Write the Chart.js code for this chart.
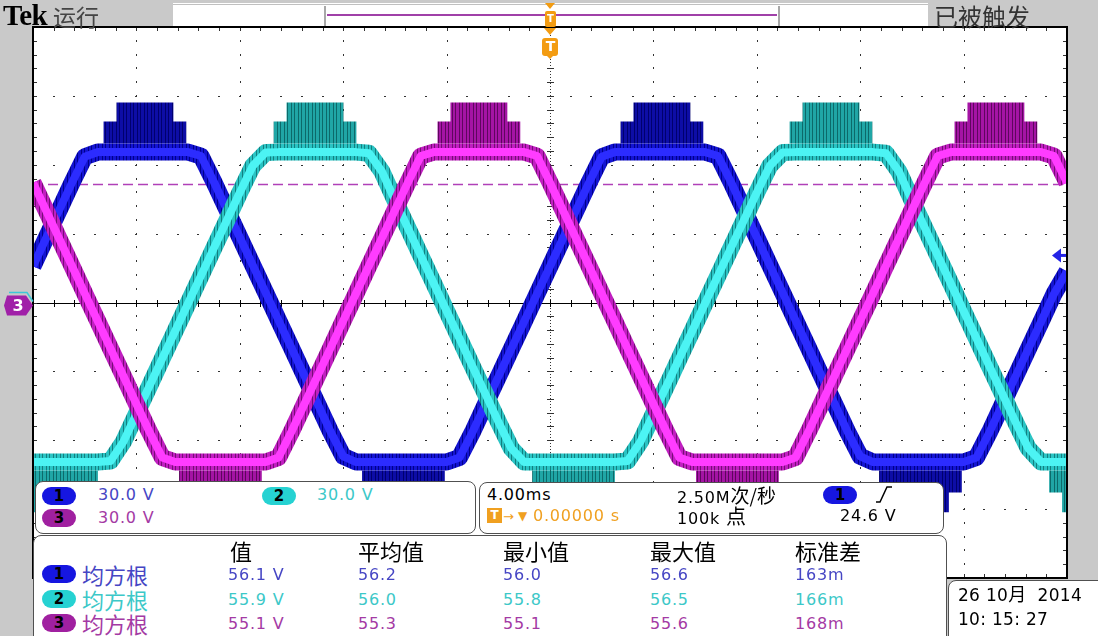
<!DOCTYPE html>
<html>
<head>
<meta charset="utf-8">
<title>Tek scope</title>
<script src="https://cdn.jsdelivr.net/npm/chart.js@4.4.1/dist/chart.umd.min.js"></script>
<style>
  html, body { margin: 0; padding: 0; }
  body { width: 1098px; height: 636px; position: relative; overflow: hidden; background: #c9c9c9; }
  #scope { position: absolute; left: 0; top: 0; }
  .t { position: absolute; white-space: nowrap; line-height: 1; transform: translateY(-50%);
       font-family: "DejaVu Sans", sans-serif; font-size: 16px; letter-spacing: 0.8px; color: #000; }
  .cjk { font-family: "Noto Sans CJK SC", sans-serif; letter-spacing: 0; }
  .box { position: absolute; background: #fff; border: 1px solid #505050; box-sizing: border-box; }
  .pill { position: absolute; width: 34px; height: 18px; border-radius: 9px; transform: translateY(-50%);
          font: bold 15px "DejaVu Sans", sans-serif; color: #000; text-align: center; line-height: 18px; }
  .c1 { color: #4646c4; } .c2 { color: #3cc8c8; } .c3 { color: #a43aa4; }
  .p1 { background: #1616e0; } .p2 { background: #26d2d2; } .p3 { background: #a020a0; }
  .org { color: #f0a020; }
</style>
</head>
<body>
<canvas id="scope" width="1098" height="636"></canvas>

<!-- status bar -->
<div class="t" style="left:3px;top:15px;font:bold 29px 'Liberation Serif',serif;letter-spacing:-0.5px">Tek</div>
<div class="t cjk" style="left:53px;top:16px;font-size:23px;color:#444">运行</div>
<div class="t cjk" style="left:934px;top:16px;font-size:24px;color:#333">已被触发</div>

<!-- channel scale readout -->
<div class="box" style="left:35px;top:481px;width:441px;height:53px;border-radius:8px"></div>
<div class="pill p1" style="left:42px;top:496px">1</div>
<div class="t c1" style="left:98px;top:495px">30.0 V</div>
<div class="pill p2" style="left:262px;top:496px">2</div>
<div class="t c2" style="left:317px;top:495px">30.0 V</div>
<div class="pill p3" style="left:42px;top:518px">3</div>
<div class="t c3" style="left:98px;top:518px">30.0 V</div>

<!-- timebase / trigger readout -->
<div class="box" style="left:479px;top:482px;width:465px;height:52px;border-radius:8px"></div>
<div class="t" style="left:487px;top:495px">4.00ms</div>
<div class="t" style="left:677px;top:495px">2.50M<span class="cjk" style="font-size:19px">次/秒</span></div>
<div class="pill p1" style="left:823px;top:495px">1</div>
<svg style="position:absolute;left:872px;top:484px" width="24" height="22">
  <polyline points="4,18 8,18 15,3 20,3" fill="none" stroke="#000" stroke-width="1.5"/>
</svg>
<div style="position:absolute;left:487px;top:508px;width:15px;height:15px;background:#f0a020;color:#fff;font:bold 12px 'DejaVu Sans',sans-serif;text-align:center;line-height:15px">T</div>
<div class="t org" style="left:503px;top:516px;font-size:13px;letter-spacing:0">→</div>
<div class="t org" style="left:518px;top:516px;font-size:12px;letter-spacing:0">▼</div>
<div class="t org" style="left:533px;top:516px">0.00000 s</div>
<div class="t" style="left:677px;top:516px">100k <span class="cjk" style="font-size:20px">点</span></div>
<div class="t" style="left:840px;top:516px">24.6 V</div>

<!-- measurement table -->
<div class="box" style="left:33px;top:535px;width:914px;height:120px;border-radius:8px 8px 0 0"></div>
<div class="t cjk" style="left:230px;top:550px;font-size:22px">值</div>
<div class="t cjk" style="left:358px;top:550px;font-size:22px">平均值</div>
<div class="t cjk" style="left:503px;top:550px;font-size:22px">最小值</div>
<div class="t cjk" style="left:650px;top:550px;font-size:22px">最大值</div>
<div class="t cjk" style="left:795px;top:550px;font-size:22px">标准差</div>

<div class="pill p1" style="left:42px;top:574px">1</div>
<div class="t cjk c1" style="left:82px;top:574px;font-size:22px">均方根</div>
<div class="t c1" style="left:228px;top:575px">56.1 V</div>
<div class="t c1" style="left:358px;top:575px">56.2</div>
<div class="t c1" style="left:503px;top:575px">56.0</div>
<div class="t c1" style="left:650px;top:575px">56.6</div>
<div class="t c1" style="left:795px;top:575px">163m</div>

<div class="pill p2" style="left:42px;top:599px">2</div>
<div class="t cjk c2" style="left:82px;top:599px;font-size:22px">均方根</div>
<div class="t c2" style="left:228px;top:600px">55.9 V</div>
<div class="t c2" style="left:358px;top:600px">56.0</div>
<div class="t c2" style="left:503px;top:600px">55.8</div>
<div class="t c2" style="left:650px;top:600px">56.5</div>
<div class="t c2" style="left:795px;top:600px">166m</div>

<div class="pill p3" style="left:42px;top:623px">3</div>
<div class="t cjk c3" style="left:82px;top:623px;font-size:22px">均方根</div>
<div class="t c3" style="left:228px;top:624px">55.1 V</div>
<div class="t c3" style="left:358px;top:624px">55.3</div>
<div class="t c3" style="left:503px;top:624px">55.1</div>
<div class="t c3" style="left:650px;top:624px">55.6</div>
<div class="t c3" style="left:795px;top:624px">168m</div>

<!-- date -->
<div class="box" style="left:948px;top:580px;width:160px;height:70px;border-radius:8px 0 0 0"></div>
<div class="t" style="left:958px;top:594px;font-size:17px;letter-spacing:0.3px">26 10<span class="cjk" style="font-size:18px">月</span>&nbsp; 2014</div>
<div class="t" style="left:958px;top:619px;font-size:17px;letter-spacing:0.3px">10: 15: 27</div>

<script>
// sample times (ms), 4 ms/div, trigger at 0
const sampleMs = [-20,-19.5,-19,-18.5,-18,-17.5,-17,-16.5,-16,-15.5,-15,-14.5,-14,-13.5,-13,-12.5,-12,-11.5,-11,-10.5,
  -10,-9.5,-9,-8.5,-8,-7.5,-7,-6.5,-6,-5.5,-5,-4.5,-4,-3.5,-3,-2.5,-2,-1.5,-1,-0.5,
  0,0.5,1,1.5,2,2.5,3,3.5,4,4.5,5,5.5,6,6.5,7,7.5,8,8.5,9,9.5,
  10,10.5,11,11.5,12,12.5,13,13.5,14,14.5,15,15.5,16,16.5,17,17.5,18,18.5,19,19.5,20];

// trace centre values (V) at 30 V/div
const ch1Volts = [15.8,27.9,39.9,52.0,63.5,65.5,65.5,65.5,65.5,65.5,65.5,65.5,65.5,63.8,52.5,40.4,28.4,16.3,4.3,-7.8,
  -19.8,-31.9,-43.9,-56.0,-67.0,-69.5,-69.5,-69.5,-69.5,-69.5,-69.5,-69.5,-69.5,-67.5,-56.5,-44.4,-32.4,-20.3,-8.3,3.8,
  15.8,27.9,39.9,52.0,63.5,65.5,65.5,65.5,65.5,65.5,65.5,65.5,65.5,63.8,52.5,40.4,28.4,16.3,4.3,-7.8,
  -19.8,-31.9,-43.9,-56.0,-67.0,-69.5,-69.5,-69.5,-69.5,-69.5,-69.5,-69.5,-69.5,-67.5,-56.5,-44.4,-32.4,-20.3,-8.3,3.8,13.5];
const ch2Volts = [-69.5,-69.5,-69.5,-69.5,-69.5,-69.5,-69.0,-60.6,-48.5,-36.5,-24.4,-12.4,-0.3,11.7,23.8,35.8,47.9,59.5,65.3,65.5,
  65.5,65.5,65.5,65.5,65.5,65.5,65.0,57.0,44.5,32.5,20.4,8.4,-3.7,-15.7,-27.8,-39.8,-51.9,-63.5,-69.5,-69.5,
  -69.5,-69.5,-69.5,-69.5,-69.5,-69.5,-69.0,-60.6,-48.5,-36.5,-24.4,-12.4,-0.3,11.7,23.8,35.8,47.9,59.5,65.3,65.5,
  65.5,65.5,65.5,65.5,65.5,65.5,65.0,57.0,44.5,32.5,20.4,8.4,-3.7,-15.7,-27.8,-39.8,-51.9,-63.5,-69.5,-69.5,-69.5];
const ch3Volts = [52.2,40.2,28.1,16.1,4.0,-8.0,-20.1,-32.1,-44.2,-56.2,-67.5,-69.5,-69.5,-69.5,-69.5,-69.5,-69.5,-69.5,-69.5,-67.5,
  -56.2,-44.2,-32.1,-20.1,-8.0,4.0,16.1,28.1,40.2,52.2,63.8,65.5,65.5,65.5,65.5,65.5,65.5,65.5,65.5,63.8,
  52.2,40.2,28.1,16.1,4.0,-8.0,-20.1,-32.1,-44.2,-56.2,-67.5,-69.5,-69.5,-69.5,-69.5,-69.5,-69.5,-69.5,-69.5,-67.5,
  -56.2,-44.2,-32.1,-20.1,-8.0,4.0,16.1,28.1,40.2,52.2,63.8,65.5,65.5,65.5,65.5,65.5,65.5,65.5,65.5,63.8,52.2];

// crest / trough times (ms) where the ripple envelope bulges out
const ch1Tops = [-15.67, 4.33], ch1Bottoms = [-5.67, 14.33];
const ch2Tops = [-9.09, 10.87], ch2Bottoms = [-19.09, 0.91, 20.91];
const ch3Tops = [-2.75, 17.25], ch3Bottoms = [-12.75, 7.25];
// envelope steps: half width (ms) and level (V)
const hatHalfMs = [1.6, 1.1];
const hatTopV = [74.0, 82.3];
const hatBottomV = [-78.0, -86.6];

const refLineV = 51.4;     // dashed magenta level
const trigArrowV = 20.5;   // trigger level arrow on the right

const canvas = document.getElementById('scope');
const mainCtx = canvas.getContext('2d');

function stripes(base, dark) {
  const c = document.createElement('canvas');
  c.width = 7; c.height = 4;
  const g = c.getContext('2d');
  g.fillStyle = base; g.fillRect(0, 0, 7, 4);
  g.fillStyle = dark; g.fillRect(0, 0, 1, 4); g.fillRect(4, 0, 1, 4);
  return mainCtx.createPattern(c, 'repeat');
}

function tracePoints(vals) {
  return sampleMs.map((t, i) => ({ x: t, y: vals[i] }));
}

function hatPoints(tops, bottoms, tier) {
  const pts = [];
  const h = hatHalfMs[tier];
  tops.forEach(p => pts.push({ x: p - h, y: hatTopV[tier] }, { x: p + h, y: hatTopV[tier] }, { x: p + h, y: null }));
  bottoms.forEach(p => pts.push({ x: p - h, y: hatBottomV[tier] }, { x: p + h, y: hatBottomV[tier] }, { x: p + h, y: null }));
  return pts.sort((a, b) => a.x - b.x);
}

function line(data, color, width, order) {
  return { data, borderColor: color, borderWidth: width, pointRadius: 0, tension: 0, fill: false,
           borderJoinStyle: 'round', borderCapStyle: 'butt', spanGaps: false, order };
}

function channel(vals, tops, bottoms, hatCol, bandCol, coreCol, base) {
  return [
    line(hatPoints(tops, bottoms, 0), hatCol, 22, base + 3),
    line(hatPoints(tops, bottoms, 1), hatCol, 22, base + 3),
    line(tracePoints(vals), bandCol, 17, base + 2),
    line(tracePoints(vals), coreCol, 8, base + 1)
  ];
}

const datasets = [].concat(
  channel(ch1Volts, ch1Tops, ch1Bottoms, stripes('#0d0da6', '#00006e'), stripes('#1414d2', '#00008c'), '#2c2cff', 20),
  channel(ch2Volts, ch2Tops, ch2Bottoms, stripes('#20a6a6', '#0c6a6a'), stripes('#2ac4c4', '#118080'), '#4cf4f4', 10),
  channel(ch3Volts, ch3Tops, ch3Bottoms, stripes('#a414a4', '#5e065e'), stripes('#c11fc1', '#780b78'), '#ff3cff', 0)
);

function rrect(ctx, x, y, w, h, r) {
  ctx.beginPath();
  ctx.moveTo(x + r, y); ctx.lineTo(x + w - r, y); ctx.quadraticCurveTo(x + w, y, x + w, y + r);
  ctx.lineTo(x + w, y + h - r); ctx.quadraticCurveTo(x + w, y + h, x + w - r, y + h);
  ctx.lineTo(x + r, y + h); ctx.quadraticCurveTo(x, y + h, x, y + h - r);
  ctx.lineTo(x, y + r); ctx.quadraticCurveTo(x, y, x + r, y);
  ctx.closePath();
}

const scopeDecor = {
  id: 'scopeDecor',
  beforeDraw(chart) {
    const { ctx, chartArea: a } = chart;
    ctx.save();
    // status bar
    ctx.fillStyle = '#fff';
    ctx.fillRect(173, 3, 755, 24);
    ctx.strokeStyle = '#c0c0c0'; ctx.lineWidth = 1;
    ctx.beginPath(); ctx.moveTo(173, 4.5); ctx.lineTo(928, 4.5); ctx.stroke();
    ctx.strokeStyle = '#a8a8a8'; ctx.lineWidth = 2;
    ctx.beginPath();
    ctx.moveTo(325, 6); ctx.lineTo(325, 26);
    ctx.moveTo(779, 6); ctx.lineTo(779, 26);
    ctx.stroke();
    ctx.strokeStyle = '#a040a8'; ctx.lineWidth = 2;
    ctx.beginPath(); ctx.moveTo(327, 15); ctx.lineTo(777, 15); ctx.stroke();
    // graticule background
    ctx.fillStyle = '#fff';
    ctx.fillRect(a.left, a.top, a.right - a.left, a.bottom - a.top);
    ctx.restore();
  },
  beforeDatasetsDraw(chart) {
    const { ctx, chartArea: a, scales: { x, y } } = chart;
    ctx.save();
    ctx.fillStyle = '#333';
    for (let d = 1; d < 10; d++) {
      if (d === 5) continue;
      const px = Math.round(x.getPixelForValue(-20 + d * 4));
      for (let m = 1; m < 40; m++) {
        ctx.fillRect(px, Math.round(y.getPixelForValue(-120 + m * 6)) - 1, 1, 2);
      }
    }
    for (let d = 1; d < 8; d++) {
      if (d === 4) continue;
      const py = Math.round(y.getPixelForValue(-120 + d * 30));
      for (let m = 1; m < 50; m++) {
        ctx.fillRect(Math.round(x.getPixelForValue(-20 + m * 0.8)) - 1, py, 2, 1);
      }
    }
    // centre vertical: dense dots + ticks
    const cx = Math.round(x.getPixelForValue(0));
    for (let py = a.top + 2; py < a.bottom; py += 3) ctx.fillRect(cx, py, 1, 1);
    for (let m = 1; m < 40; m++) {
      ctx.fillRect(cx - 3, Math.round(y.getPixelForValue(-120 + m * 6)), 7, 1);
    }
    // centre horizontal: solid line + ticks
    const cy = Math.round(y.getPixelForValue(0));
    ctx.fillStyle = '#000';
    ctx.fillRect(a.left, cy, a.right - a.left, 1);
    for (let m = 1; m < 50; m++) {
      ctx.fillRect(Math.round(x.getPixelForValue(-20 + m * 0.8)), cy - 3, 1, 7);
    }
    // border ticks
    ctx.fillStyle = '#333';
    for (let m = 1; m < 50; m++) {
      const px = Math.round(x.getPixelForValue(-20 + m * 0.8));
      ctx.fillRect(px, a.top + 1, 1, 3);
      ctx.fillRect(px, a.bottom - 4, 1, 3);
    }
    for (let m = 1; m < 40; m++) {
      const py = Math.round(y.getPixelForValue(-120 + m * 6));
      ctx.fillRect(a.left + 1, py, 3, 1);
      ctx.fillRect(a.right - 4, py, 3, 1);
    }
    // dashed level line
    const ry = Math.round(y.getPixelForValue(refLineV)) + 0.5;
    ctx.strokeStyle = '#b040b8'; ctx.lineWidth = 1.5;
    ctx.setLineDash([10, 5]);
    ctx.beginPath(); ctx.moveTo(a.left, ry); ctx.lineTo(a.right, ry); ctx.stroke();
    ctx.restore();
  },
  afterDatasetsDraw(chart) {
    const { ctx, chartArea: a, scales: { x, y } } = chart;
    ctx.save();
    ctx.strokeStyle = '#000'; ctx.lineWidth = 2;
    ctx.strokeRect(a.left, a.top, a.right - a.left, a.bottom - a.top);

    const tx = x.getPixelForValue(0);
    const orange = '#f39c12';
    ctx.fillStyle = orange;
    // small trigger marker in the status bar
    ctx.beginPath(); ctx.moveTo(tx - 5, 3); ctx.lineTo(tx + 5, 3); ctx.lineTo(tx, 9); ctx.closePath(); ctx.fill();
    rrect(ctx, tx - 5, 11, 11, 16, 2); ctx.fill();
    ctx.beginPath(); ctx.moveTo(tx - 6, 28); ctx.lineTo(tx + 6, 28); ctx.lineTo(tx, 35); ctx.closePath(); ctx.fill();
    // big trigger marker
    rrect(ctx, tx - 8, 38, 16, 18, 3); ctx.fill();
    ctx.beginPath(); ctx.moveTo(tx - 4, 55); ctx.lineTo(tx + 4, 55); ctx.lineTo(tx, 59); ctx.closePath(); ctx.fill();
    ctx.fillStyle = '#fff';
    ctx.textAlign = 'center'; ctx.textBaseline = 'middle';
    ctx.font = 'bold 10px "DejaVu Sans"';
    ctx.fillText('T', tx + 0.5, 19.5);
    ctx.font = 'bold 14px "DejaVu Sans"';
    ctx.fillText('T', tx + 0.5, 47.5);

    // ch3 ground marker
    const gy = y.getPixelForValue(0) + 3;
    ctx.strokeStyle = '#3cc8d8'; ctx.lineWidth = 1.5;
    ctx.beginPath();
    ctx.moveTo(9, gy - 13); ctx.lineTo(27, gy - 13); ctx.lineTo(33, gy - 4);
    ctx.stroke();
    ctx.fillStyle = '#a020a8';
    ctx.beginPath();
    ctx.moveTo(7, gy - 10); ctx.lineTo(26, gy - 10); ctx.lineTo(33, gy); ctx.lineTo(26, gy + 10);
    ctx.lineTo(7, gy + 10); ctx.lineTo(4, gy); ctx.closePath(); ctx.fill();
    ctx.fillStyle = '#fff';
    ctx.font = 'bold 16px "DejaVu Sans"';
    ctx.fillText('3', 18, gy + 1);

    // trigger level arrow
    const ay = y.getPixelForValue(trigArrowV);
    ctx.fillStyle = '#2323e6';
    ctx.beginPath(); ctx.moveTo(a.right - 15, ay); ctx.lineTo(a.right - 6, ay - 7); ctx.lineTo(a.right - 6, ay + 7);
    ctx.closePath(); ctx.fill();
    ctx.fillRect(a.right - 7, ay - 1.5, 6, 3);
    ctx.restore();
  }
};

new Chart(canvas, {
  type: 'line',
  data: { datasets },
  options: {
    responsive: false,
    animation: false,
    devicePixelRatio: 1,
    layout: { padding: { left: 33, top: 27, right: 31, bottom: 58 } },
    plugins: { legend: { display: false }, tooltip: { enabled: false }, title: { display: false } },
    scales: {
      x: { type: 'linear', min: -20, max: 20, display: false },
      y: { type: 'linear', min: -120, max: 120, display: false }
    },
    elements: { line: { capBezierPoints: false } }
  },
  plugins: [scopeDecor]
});
</script>
</body>
</html>
